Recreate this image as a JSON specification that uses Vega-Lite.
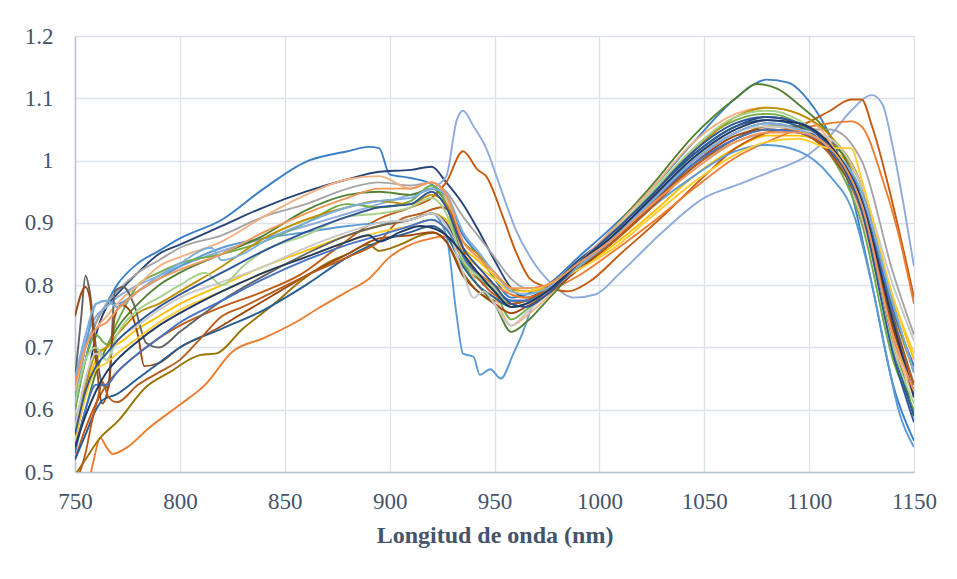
{
"$schema":"https://vega.github.io/schema/vega-lite/v6.json",
"width":839,"height":436,
"autosize":{"type":"none"},
"padding":{"left":75,"top":36,"right":43,"bottom":107},
"background":"white",
"config":{"view":{"stroke":null},"font":"Liberation Serif"},
"data":{"values":[
{"s":1,"x":750,"y":0.60},{"s":1,"x":755,"y":0.68},{"s":1,"x":760,"y":0.74},{"s":1,"x":765,"y":0.77},{"s":1,"x":770,"y":0.80},{"s":1,"x":780,"y":0.835},{"s":1,"x":790,"y":0.855},{"s":1,"x":800,"y":0.875},{"s":1,"x":820,"y":0.905},{"s":1,"x":840,"y":0.955},{"s":1,"x":860,"y":0.998},{"s":1,"x":880,"y":1.015},{"s":1,"x":890,"y":1.022},{"s":1,"x":895,"y":1.02},{"s":1,"x":900,"y":0.978},{"s":1,"x":910,"y":0.972},{"s":1,"x":920,"y":0.962},{"s":1,"x":927,"y":0.94},{"s":1,"x":935,"y":0.88},{"s":1,"x":942,"y":0.85},{"s":1,"x":950,"y":0.81},{"s":1,"x":958,"y":0.78},{"s":1,"x":965,"y":0.785},{"s":1,"x":975,"y":0.80},{"s":1,"x":990,"y":0.845},{"s":1,"x":1005,"y":0.89},{"s":1,"x":1025,"y":0.955},{"s":1,"x":1045,"y":1.03},{"s":1,"x":1065,"y":1.10},{"s":1,"x":1080,"y":1.13},{"s":1,"x":1090,"y":1.125},{"s":1,"x":1100,"y":1.095},{"s":1,"x":1110,"y":1.04},{"s":1,"x":1120,"y":0.95},{"s":1,"x":1130,"y":0.80},{"s":1,"x":1140,"y":0.64},{"s":1,"x":1150,"y":0.55},
{"s":2,"x":750,"y":0.55},{"s":2,"x":755,"y":0.63},{"s":2,"x":760,"y":0.72},{"s":2,"x":765,"y":0.765},{"s":2,"x":770,"y":0.785},{"s":2,"x":780,"y":0.82},{"s":2,"x":790,"y":0.85},{"s":2,"x":800,"y":0.865},{"s":2,"x":820,"y":0.895},{"s":2,"x":840,"y":0.925},{"s":2,"x":860,"y":0.95},{"s":2,"x":880,"y":0.97},{"s":2,"x":895,"y":0.982},{"s":2,"x":910,"y":0.985},{"s":2,"x":920,"y":0.99},{"s":2,"x":927,"y":0.965},{"s":2,"x":935,"y":0.93},{"s":2,"x":942,"y":0.89},{"s":2,"x":950,"y":0.84},{"s":2,"x":958,"y":0.795},{"s":2,"x":965,"y":0.78},{"s":2,"x":975,"y":0.795},{"s":2,"x":990,"y":0.84},{"s":2,"x":1005,"y":0.88},{"s":2,"x":1025,"y":0.945},{"s":2,"x":1045,"y":1.01},{"s":2,"x":1065,"y":1.055},{"s":2,"x":1080,"y":1.07},{"s":2,"x":1095,"y":1.06},{"s":2,"x":1110,"y":1.02},{"s":2,"x":1125,"y":0.93},{"s":2,"x":1140,"y":0.75},{"s":2,"x":1150,"y":0.62},
{"s":3,"x":750,"y":0.62},{"s":3,"x":755,"y":0.70},{"s":3,"x":760,"y":0.74},{"s":3,"x":765,"y":0.77},{"s":3,"x":770,"y":0.79},{"s":3,"x":780,"y":0.82},{"s":3,"x":790,"y":0.84},{"s":3,"x":800,"y":0.86},{"s":3,"x":820,"y":0.88},{"s":3,"x":840,"y":0.91},{"s":3,"x":860,"y":0.93},{"s":3,"x":880,"y":0.955},{"s":3,"x":895,"y":0.965},{"s":3,"x":910,"y":0.96},{"s":3,"x":920,"y":0.965},{"s":3,"x":927,"y":0.95},{"s":3,"x":935,"y":0.91},{"s":3,"x":942,"y":0.88},{"s":3,"x":950,"y":0.845},{"s":3,"x":958,"y":0.81},{"s":3,"x":965,"y":0.795},{"s":3,"x":975,"y":0.80},{"s":3,"x":990,"y":0.83},{"s":3,"x":1005,"y":0.87},{"s":3,"x":1025,"y":0.93},{"s":3,"x":1045,"y":0.99},{"s":3,"x":1065,"y":1.03},{"s":3,"x":1080,"y":1.045},{"s":3,"x":1095,"y":1.05},{"s":3,"x":1110,"y":1.05},{"s":3,"x":1125,"y":1.0},{"s":3,"x":1140,"y":0.82},{"s":3,"x":1150,"y":0.72},
{"s":4,"x":750,"y":0.56},{"s":4,"x":755,"y":0.63},{"s":4,"x":760,"y":0.68},{"s":4,"x":765,"y":0.70},{"s":4,"x":770,"y":0.705},{"s":4,"x":780,"y":0.73},{"s":4,"x":790,"y":0.75},{"s":4,"x":800,"y":0.77},{"s":4,"x":820,"y":0.80},{"s":4,"x":840,"y":0.83},{"s":4,"x":860,"y":0.855},{"s":4,"x":880,"y":0.88},{"s":4,"x":895,"y":0.895},{"s":4,"x":910,"y":0.905},{"s":4,"x":920,"y":0.915},{"s":4,"x":927,"y":0.905},{"s":4,"x":935,"y":0.86},{"s":4,"x":942,"y":0.84},{"s":4,"x":950,"y":0.815},{"s":4,"x":958,"y":0.795},{"s":4,"x":965,"y":0.79},{"s":4,"x":975,"y":0.795},{"s":4,"x":990,"y":0.825},{"s":4,"x":1005,"y":0.86},{"s":4,"x":1025,"y":0.915},{"s":4,"x":1045,"y":0.975},{"s":4,"x":1065,"y":1.02},{"s":4,"x":1080,"y":1.04},{"s":4,"x":1095,"y":1.04},{"s":4,"x":1110,"y":1.02},{"s":4,"x":1125,"y":0.96},{"s":4,"x":1140,"y":0.78},{"s":4,"x":1150,"y":0.68},
{"s":5,"x":750,"y":0.64},{"s":5,"x":755,"y":0.71},{"s":5,"x":760,"y":0.75},{"s":5,"x":765,"y":0.765},{"s":5,"x":770,"y":0.78},{"s":5,"x":780,"y":0.80},{"s":5,"x":790,"y":0.815},{"s":5,"x":800,"y":0.83},{"s":5,"x":820,"y":0.855},{"s":5,"x":840,"y":0.875},{"s":5,"x":860,"y":0.895},{"s":5,"x":880,"y":0.915},{"s":5,"x":895,"y":0.93},{"s":5,"x":910,"y":0.945},{"s":5,"x":920,"y":0.955},{"s":5,"x":927,"y":0.975},{"s":5,"x":932,"y":1.065},{"s":5,"x":935,"y":1.08},{"s":5,"x":940,"y":1.055},{"s":5,"x":946,"y":1.02},{"s":5,"x":953,"y":0.955},{"s":5,"x":960,"y":0.89},{"s":5,"x":968,"y":0.84},{"s":5,"x":978,"y":0.80},{"s":5,"x":988,"y":0.78},{"s":5,"x":998,"y":0.785},{"s":5,"x":1010,"y":0.82},{"s":5,"x":1030,"y":0.885},{"s":5,"x":1050,"y":0.94},{"s":5,"x":1065,"y":0.96},{"s":5,"x":1080,"y":0.98},{"s":5,"x":1100,"y":1.01},{"s":5,"x":1110,"y":1.04},{"s":5,"x":1120,"y":1.08},{"s":5,"x":1130,"y":1.105},{"s":5,"x":1135,"y":1.09},{"s":5,"x":1140,"y":1.02},{"s":5,"x":1145,"y":0.93},{"s":5,"x":1150,"y":0.83},
{"s":6,"x":750,"y":0.52},{"s":6,"x":755,"y":0.57},{"s":6,"x":760,"y":0.61},{"s":6,"x":765,"y":0.64},{"s":6,"x":770,"y":0.66},{"s":6,"x":780,"y":0.69},{"s":6,"x":790,"y":0.715},{"s":6,"x":800,"y":0.735},{"s":6,"x":820,"y":0.765},{"s":6,"x":840,"y":0.79},{"s":6,"x":857,"y":0.816},{"s":6,"x":875,"y":0.86},{"s":6,"x":894,"y":0.905},{"s":6,"x":910,"y":0.925},{"s":6,"x":920,"y":0.94},{"s":6,"x":927,"y":0.965},{"s":6,"x":935,"y":1.015},{"s":6,"x":942,"y":0.985},{"s":6,"x":946,"y":0.975},{"s":6,"x":954,"y":0.91},{"s":6,"x":960,"y":0.855},{"s":6,"x":967,"y":0.81},{"s":6,"x":975,"y":0.797},{"s":6,"x":985,"y":0.79},{"s":6,"x":995,"y":0.805},{"s":6,"x":1010,"y":0.85},{"s":6,"x":1030,"y":0.91},{"s":6,"x":1050,"y":0.975},{"s":6,"x":1065,"y":1.02},{"s":6,"x":1080,"y":1.045},{"s":6,"x":1095,"y":1.055},{"s":6,"x":1110,"y":1.08},{"s":6,"x":1120,"y":1.098},{"s":6,"x":1125,"y":1.098},{"s":6,"x":1130,"y":1.055},{"s":6,"x":1142,"y":0.90},{"s":6,"x":1150,"y":0.78},
{"s":7,"x":757,"y":0.49},{"s":7,"x":759,"y":0.52},{"s":7,"x":762,"y":0.555},{"s":7,"x":765,"y":0.54},{"s":7,"x":768,"y":0.529},{"s":7,"x":775,"y":0.54},{"s":7,"x":785,"y":0.57},{"s":7,"x":800,"y":0.608},{"s":7,"x":812,"y":0.64},{"s":7,"x":825,"y":0.693},{"s":7,"x":840,"y":0.715},{"s":7,"x":855,"y":0.74},{"s":7,"x":867,"y":0.765},{"s":7,"x":880,"y":0.79},{"s":7,"x":890,"y":0.81},{"s":7,"x":900,"y":0.845},{"s":7,"x":910,"y":0.865},{"s":7,"x":920,"y":0.875},{"s":7,"x":925,"y":0.878},{"s":7,"x":930,"y":0.87},{"s":7,"x":935,"y":0.84},{"s":7,"x":942,"y":0.82},{"s":7,"x":950,"y":0.80},{"s":7,"x":958,"y":0.785},{"s":7,"x":965,"y":0.78},{"s":7,"x":975,"y":0.79},{"s":7,"x":990,"y":0.815},{"s":7,"x":1005,"y":0.85},{"s":7,"x":1025,"y":0.90},{"s":7,"x":1045,"y":0.955},{"s":7,"x":1065,"y":1.005},{"s":7,"x":1080,"y":1.03},{"s":7,"x":1095,"y":1.05},{"s":7,"x":1110,"y":1.06},{"s":7,"x":1120,"y":1.063},{"s":7,"x":1125,"y":1.055},{"s":7,"x":1135,"y":0.97},{"s":7,"x":1142,"y":0.89},{"s":7,"x":1150,"y":0.77},
{"s":8,"x":750,"y":0.495},{"s":8,"x":755,"y":0.52},{"s":8,"x":762,"y":0.555},{"s":8,"x":770,"y":0.58},{"s":8,"x":784,"y":0.637},{"s":8,"x":795,"y":0.66},{"s":8,"x":810,"y":0.688},{"s":8,"x":817,"y":0.69},{"s":8,"x":830,"y":0.73},{"s":8,"x":845,"y":0.77},{"s":8,"x":857,"y":0.805},{"s":8,"x":870,"y":0.835},{"s":8,"x":880,"y":0.85},{"s":8,"x":890,"y":0.865},{"s":8,"x":895,"y":0.855},{"s":8,"x":905,"y":0.865},{"s":8,"x":915,"y":0.88},{"s":8,"x":921,"y":0.884},{"s":8,"x":927,"y":0.87},{"s":8,"x":935,"y":0.82},{"s":8,"x":942,"y":0.79},{"s":8,"x":950,"y":0.775},{"s":8,"x":958,"y":0.77},{"s":8,"x":965,"y":0.775},{"s":8,"x":975,"y":0.79},{"s":8,"x":990,"y":0.825},{"s":8,"x":1005,"y":0.865},{"s":8,"x":1025,"y":0.925},{"s":8,"x":1045,"y":0.99},{"s":8,"x":1065,"y":1.035},{"s":8,"x":1080,"y":1.055},{"s":8,"x":1095,"y":1.055},{"s":8,"x":1110,"y":1.03},{"s":8,"x":1125,"y":0.96},{"s":8,"x":1140,"y":0.77},{"s":8,"x":1150,"y":0.66},
{"s":9,"x":750,"y":0.62},{"s":9,"x":755,"y":0.70},{"s":9,"x":760,"y":0.77},{"s":9,"x":765,"y":0.775},{"s":9,"x":770,"y":0.77},{"s":9,"x":780,"y":0.79},{"s":9,"x":790,"y":0.81},{"s":9,"x":800,"y":0.83},{"s":9,"x":820,"y":0.86},{"s":9,"x":840,"y":0.875},{"s":9,"x":860,"y":0.885},{"s":9,"x":880,"y":0.895},{"s":9,"x":895,"y":0.90},{"s":9,"x":910,"y":0.905},{"s":9,"x":920,"y":0.915},{"s":9,"x":927,"y":0.88},{"s":9,"x":932,"y":0.75},{"s":9,"x":935,"y":0.69},{"s":9,"x":940,"y":0.685},{"s":9,"x":943,"y":0.656},{"s":9,"x":948,"y":0.665},{"s":9,"x":953,"y":0.65},{"s":9,"x":959,"y":0.69},{"s":9,"x":963,"y":0.72},{"s":9,"x":968,"y":0.765},{"s":9,"x":975,"y":0.79},{"s":9,"x":990,"y":0.83},{"s":9,"x":1005,"y":0.865},{"s":9,"x":1025,"y":0.925},{"s":9,"x":1045,"y":0.975},{"s":9,"x":1065,"y":1.015},{"s":9,"x":1080,"y":1.025},{"s":9,"x":1095,"y":1.015},{"s":9,"x":1110,"y":0.975},{"s":9,"x":1121,"y":0.916},{"s":9,"x":1130,"y":0.80},{"s":9,"x":1137,"y":0.685},{"s":9,"x":1143,"y":0.595},{"s":9,"x":1150,"y":0.54},
{"s":10,"x":750,"y":0.54},{"s":10,"x":755,"y":0.60},{"s":10,"x":760,"y":0.66},{"s":10,"x":765,"y":0.70},{"s":10,"x":770,"y":0.73},{"s":10,"x":780,"y":0.77},{"s":10,"x":790,"y":0.80},{"s":10,"x":800,"y":0.82},{"s":10,"x":820,"y":0.85},{"s":10,"x":840,"y":0.88},{"s":10,"x":860,"y":0.92},{"s":10,"x":880,"y":0.945},{"s":10,"x":895,"y":0.95},{"s":10,"x":910,"y":0.945},{"s":10,"x":920,"y":0.955},{"s":10,"x":927,"y":0.93},{"s":10,"x":935,"y":0.84},{"s":10,"x":942,"y":0.80},{"s":10,"x":950,"y":0.77},{"s":10,"x":958,"y":0.725},{"s":10,"x":965,"y":0.74},{"s":10,"x":975,"y":0.775},{"s":10,"x":990,"y":0.83},{"s":10,"x":1005,"y":0.885},{"s":10,"x":1025,"y":0.96},{"s":10,"x":1045,"y":1.04},{"s":10,"x":1065,"y":1.10},{"s":10,"x":1075,"y":1.123},{"s":10,"x":1085,"y":1.115},{"s":10,"x":1095,"y":1.09},{"s":10,"x":1110,"y":1.04},{"s":10,"x":1125,"y":0.94},{"s":10,"x":1140,"y":0.72},{"s":10,"x":1150,"y":0.59},
{"s":11,"x":750,"y":0.60},{"s":11,"x":755,"y":0.68},{"s":11,"x":760,"y":0.72},{"s":11,"x":765,"y":0.705},{"s":11,"x":770,"y":0.74},{"s":11,"x":780,"y":0.80},{"s":11,"x":790,"y":0.82},{"s":11,"x":800,"y":0.835},{"s":11,"x":820,"y":0.85},{"s":11,"x":840,"y":0.87},{"s":11,"x":860,"y":0.90},{"s":11,"x":880,"y":0.93},{"s":11,"x":895,"y":0.925},{"s":11,"x":910,"y":0.935},{"s":11,"x":920,"y":0.96},{"s":11,"x":927,"y":0.93},{"s":11,"x":935,"y":0.835},{"s":11,"x":942,"y":0.81},{"s":11,"x":950,"y":0.79},{"s":11,"x":958,"y":0.745},{"s":11,"x":965,"y":0.76},{"s":11,"x":975,"y":0.785},{"s":11,"x":990,"y":0.83},{"s":11,"x":1005,"y":0.88},{"s":11,"x":1025,"y":0.945},{"s":11,"x":1045,"y":1.02},{"s":11,"x":1065,"y":1.065},{"s":11,"x":1080,"y":1.075},{"s":11,"x":1095,"y":1.06},{"s":11,"x":1110,"y":1.01},{"s":11,"x":1125,"y":0.90},{"s":11,"x":1140,"y":0.68},{"s":11,"x":1150,"y":0.60},
{"s":12,"x":750,"y":0.63},{"s":12,"x":755,"y":0.70},{"s":12,"x":760,"y":0.73},{"s":12,"x":765,"y":0.75},{"s":12,"x":770,"y":0.77},{"s":12,"x":780,"y":0.80},{"s":12,"x":790,"y":0.83},{"s":12,"x":800,"y":0.845},{"s":12,"x":820,"y":0.87},{"s":12,"x":840,"y":0.91},{"s":12,"x":860,"y":0.945},{"s":12,"x":880,"y":0.97},{"s":12,"x":895,"y":0.975},{"s":12,"x":910,"y":0.955},{"s":12,"x":920,"y":0.965},{"s":12,"x":927,"y":0.94},{"s":12,"x":935,"y":0.85},{"s":12,"x":942,"y":0.80},{"s":12,"x":950,"y":0.78},{"s":12,"x":958,"y":0.735},{"s":12,"x":965,"y":0.75},{"s":12,"x":975,"y":0.78},{"s":12,"x":990,"y":0.835},{"s":12,"x":1005,"y":0.885},{"s":12,"x":1025,"y":0.955},{"s":12,"x":1045,"y":1.03},{"s":12,"x":1065,"y":1.075},{"s":12,"x":1080,"y":1.085},{"s":12,"x":1095,"y":1.075},{"s":12,"x":1110,"y":1.03},{"s":12,"x":1125,"y":0.91},{"s":12,"x":1140,"y":0.71},{"s":12,"x":1150,"y":0.62},
{"s":13,"x":750,"y":0.58},{"s":13,"x":755,"y":0.64},{"s":13,"x":760,"y":0.69},{"s":13,"x":765,"y":0.70},{"s":13,"x":770,"y":0.72},{"s":13,"x":780,"y":0.755},{"s":13,"x":790,"y":0.77},{"s":13,"x":800,"y":0.79},{"s":13,"x":820,"y":0.83},{"s":13,"x":840,"y":0.875},{"s":13,"x":860,"y":0.905},{"s":13,"x":880,"y":0.925},{"s":13,"x":895,"y":0.935},{"s":13,"x":910,"y":0.93},{"s":13,"x":920,"y":0.945},{"s":13,"x":927,"y":0.93},{"s":13,"x":935,"y":0.87},{"s":13,"x":942,"y":0.85},{"s":13,"x":950,"y":0.82},{"s":13,"x":958,"y":0.795},{"s":13,"x":965,"y":0.79},{"s":13,"x":975,"y":0.80},{"s":13,"x":990,"y":0.835},{"s":13,"x":1005,"y":0.88},{"s":13,"x":1025,"y":0.945},{"s":13,"x":1045,"y":1.015},{"s":13,"x":1065,"y":1.07},{"s":13,"x":1080,"y":1.085},{"s":13,"x":1095,"y":1.075},{"s":13,"x":1110,"y":1.04},{"s":13,"x":1125,"y":0.96},{"s":13,"x":1140,"y":0.76},{"s":13,"x":1150,"y":0.66},
{"s":14,"x":750,"y":0.65},{"s":14,"x":753,"y":0.75},{"s":14,"x":755,"y":0.815},{"s":14,"x":757,"y":0.79},{"s":14,"x":760,"y":0.70},{"s":14,"x":763,"y":0.64},{"s":14,"x":766,"y":0.635},{"s":14,"x":769,"y":0.79},{"s":14,"x":773,"y":0.797},{"s":14,"x":778,"y":0.77},{"s":14,"x":784,"y":0.707},{"s":14,"x":790,"y":0.70},{"s":14,"x":800,"y":0.725},{"s":14,"x":820,"y":0.775},{"s":14,"x":840,"y":0.815},{"s":14,"x":860,"y":0.85},{"s":14,"x":880,"y":0.88},{"s":14,"x":895,"y":0.895},{"s":14,"x":910,"y":0.905},{"s":14,"x":920,"y":0.915},{"s":14,"x":927,"y":0.90},{"s":14,"x":935,"y":0.85},{"s":14,"x":942,"y":0.82},{"s":14,"x":950,"y":0.79},{"s":14,"x":958,"y":0.775},{"s":14,"x":965,"y":0.775},{"s":14,"x":975,"y":0.79},{"s":14,"x":990,"y":0.83},{"s":14,"x":1005,"y":0.87},{"s":14,"x":1025,"y":0.935},{"s":14,"x":1045,"y":1.0},{"s":14,"x":1065,"y":1.045},{"s":14,"x":1080,"y":1.06},{"s":14,"x":1095,"y":1.05},{"s":14,"x":1110,"y":1.015},{"s":14,"x":1125,"y":0.93},{"s":14,"x":1140,"y":0.75},{"s":14,"x":1150,"y":0.64},
{"s":15,"x":750,"y":0.75},{"s":15,"x":755,"y":0.797},{"s":15,"x":757,"y":0.78},{"s":15,"x":760,"y":0.68},{"s":15,"x":763,"y":0.61},{"s":15,"x":766,"y":0.64},{"s":15,"x":769,"y":0.75},{"s":15,"x":772,"y":0.768},{"s":15,"x":776,"y":0.76},{"s":15,"x":780,"y":0.72},{"s":15,"x":783,"y":0.67},{"s":15,"x":790,"y":0.675},{"s":15,"x":800,"y":0.70},{"s":15,"x":815,"y":0.725},{"s":15,"x":830,"y":0.755},{"s":15,"x":845,"y":0.785},{"s":15,"x":860,"y":0.815},{"s":15,"x":880,"y":0.85},{"s":15,"x":895,"y":0.875},{"s":15,"x":910,"y":0.88},{"s":15,"x":920,"y":0.885},{"s":15,"x":927,"y":0.87},{"s":15,"x":935,"y":0.815},{"s":15,"x":942,"y":0.79},{"s":15,"x":950,"y":0.77},{"s":15,"x":958,"y":0.755},{"s":15,"x":965,"y":0.765},{"s":15,"x":975,"y":0.785},{"s":15,"x":990,"y":0.825},{"s":15,"x":1005,"y":0.865},{"s":15,"x":1025,"y":0.93},{"s":15,"x":1045,"y":0.995},{"s":15,"x":1065,"y":1.04},{"s":15,"x":1080,"y":1.05},{"s":15,"x":1095,"y":1.045},{"s":15,"x":1110,"y":1.01},{"s":15,"x":1125,"y":0.92},{"s":15,"x":1140,"y":0.73},{"s":15,"x":1150,"y":0.63},
{"s":16,"x":750,"y":0.52},{"s":16,"x":755,"y":0.56},{"s":16,"x":760,"y":0.60},{"s":16,"x":763,"y":0.615},{"s":16,"x":770,"y":0.625},{"s":16,"x":780,"y":0.65},{"s":16,"x":790,"y":0.675},{"s":16,"x":800,"y":0.70},{"s":16,"x":820,"y":0.73},{"s":16,"x":840,"y":0.76},{"s":16,"x":860,"y":0.80},{"s":16,"x":880,"y":0.845},{"s":16,"x":895,"y":0.87},{"s":16,"x":910,"y":0.885},{"s":16,"x":920,"y":0.895},{"s":16,"x":927,"y":0.88},{"s":16,"x":935,"y":0.83},{"s":16,"x":942,"y":0.80},{"s":16,"x":950,"y":0.78},{"s":16,"x":958,"y":0.765},{"s":16,"x":965,"y":0.77},{"s":16,"x":975,"y":0.79},{"s":16,"x":990,"y":0.835},{"s":16,"x":1005,"y":0.88},{"s":16,"x":1025,"y":0.945},{"s":16,"x":1045,"y":1.01},{"s":16,"x":1065,"y":1.055},{"s":16,"x":1080,"y":1.065},{"s":16,"x":1095,"y":1.055},{"s":16,"x":1110,"y":1.015},{"s":16,"x":1125,"y":0.92},{"s":16,"x":1140,"y":0.70},{"s":16,"x":1150,"y":0.59},
{"s":17,"x":750,"y":0.48},{"s":17,"x":755,"y":0.53},{"s":17,"x":758,"y":0.58},{"s":17,"x":761,"y":0.62},{"s":17,"x":763,"y":0.645},{"s":17,"x":766,"y":0.62},{"s":17,"x":770,"y":0.612},{"s":17,"x":780,"y":0.64},{"s":17,"x":790,"y":0.66},{"s":17,"x":800,"y":0.68},{"s":17,"x":810,"y":0.715},{"s":17,"x":820,"y":0.75},{"s":17,"x":830,"y":0.765},{"s":17,"x":845,"y":0.79},{"s":17,"x":860,"y":0.815},{"s":17,"x":880,"y":0.845},{"s":17,"x":895,"y":0.87},{"s":17,"x":905,"y":0.905},{"s":17,"x":915,"y":0.915},{"s":17,"x":925,"y":0.925},{"s":17,"x":930,"y":0.91},{"s":17,"x":937,"y":0.84},{"s":17,"x":945,"y":0.80},{"s":17,"x":952,"y":0.78},{"s":17,"x":958,"y":0.77},{"s":17,"x":965,"y":0.775},{"s":17,"x":975,"y":0.795},{"s":17,"x":990,"y":0.83},{"s":17,"x":1005,"y":0.865},{"s":17,"x":1025,"y":0.925},{"s":17,"x":1045,"y":0.99},{"s":17,"x":1065,"y":1.035},{"s":17,"x":1080,"y":1.05},{"s":17,"x":1095,"y":1.045},{"s":17,"x":1110,"y":1.01},{"s":17,"x":1125,"y":0.93},{"s":17,"x":1140,"y":0.74},{"s":17,"x":1150,"y":0.64},
{"s":18,"x":750,"y":0.57},{"s":18,"x":755,"y":0.65},{"s":18,"x":760,"y":0.69},{"s":18,"x":765,"y":0.68},{"s":18,"x":770,"y":0.71},{"s":18,"x":780,"y":0.735},{"s":18,"x":790,"y":0.76},{"s":18,"x":800,"y":0.78},{"s":18,"x":820,"y":0.805},{"s":18,"x":840,"y":0.83},{"s":18,"x":860,"y":0.86},{"s":18,"x":880,"y":0.885},{"s":18,"x":895,"y":0.90},{"s":18,"x":910,"y":0.905},{"s":18,"x":920,"y":0.915},{"s":18,"x":927,"y":0.895},{"s":18,"x":935,"y":0.82},{"s":18,"x":940,"y":0.78},{"s":18,"x":945,"y":0.79},{"s":18,"x":950,"y":0.77},{"s":18,"x":958,"y":0.735},{"s":18,"x":965,"y":0.755},{"s":18,"x":975,"y":0.785},{"s":18,"x":990,"y":0.83},{"s":18,"x":1005,"y":0.875},{"s":18,"x":1025,"y":0.94},{"s":18,"x":1045,"y":1.005},{"s":18,"x":1065,"y":1.045},{"s":18,"x":1080,"y":1.055},{"s":18,"x":1095,"y":1.05},{"s":18,"x":1110,"y":1.035},{"s":18,"x":1125,"y":0.96},{"s":18,"x":1140,"y":0.80},{"s":18,"x":1150,"y":0.71},
{"s":19,"x":750,"y":0.55},{"s":19,"x":755,"y":0.62},{"s":19,"x":760,"y":0.665},{"s":19,"x":765,"y":0.675},{"s":19,"x":770,"y":0.69},{"s":19,"x":780,"y":0.715},{"s":19,"x":790,"y":0.74},{"s":19,"x":800,"y":0.76},{"s":19,"x":820,"y":0.79},{"s":19,"x":840,"y":0.82},{"s":19,"x":860,"y":0.845},{"s":19,"x":880,"y":0.87},{"s":19,"x":895,"y":0.885},{"s":19,"x":910,"y":0.895},{"s":19,"x":920,"y":0.905},{"s":19,"x":927,"y":0.89},{"s":19,"x":935,"y":0.85},{"s":19,"x":942,"y":0.83},{"s":19,"x":950,"y":0.81},{"s":19,"x":958,"y":0.79},{"s":19,"x":965,"y":0.79},{"s":19,"x":975,"y":0.80},{"s":19,"x":990,"y":0.825},{"s":19,"x":1005,"y":0.855},{"s":19,"x":1025,"y":0.91},{"s":19,"x":1045,"y":0.965},{"s":19,"x":1065,"y":1.01},{"s":19,"x":1080,"y":1.03},{"s":19,"x":1095,"y":1.035},{"s":19,"x":1110,"y":1.02},{"s":19,"x":1120,"y":1.02},{"s":19,"x":1125,"y":0.97},{"s":19,"x":1140,"y":0.78},{"s":19,"x":1150,"y":0.69},
{"s":20,"x":750,"y":0.53},{"s":20,"x":755,"y":0.60},{"s":20,"x":760,"y":0.64},{"s":20,"x":765,"y":0.64},{"s":20,"x":770,"y":0.66},{"s":20,"x":780,"y":0.69},{"s":20,"x":790,"y":0.715},{"s":20,"x":800,"y":0.74},{"s":20,"x":820,"y":0.775},{"s":20,"x":840,"y":0.81},{"s":20,"x":860,"y":0.84},{"s":20,"x":880,"y":0.865},{"s":20,"x":895,"y":0.88},{"s":20,"x":910,"y":0.895},{"s":20,"x":920,"y":0.905},{"s":20,"x":927,"y":0.89},{"s":20,"x":935,"y":0.845},{"s":20,"x":942,"y":0.815},{"s":20,"x":950,"y":0.795},{"s":20,"x":958,"y":0.775},{"s":20,"x":965,"y":0.775},{"s":20,"x":975,"y":0.79},{"s":20,"x":990,"y":0.83},{"s":20,"x":1005,"y":0.87},{"s":20,"x":1025,"y":0.935},{"s":20,"x":1045,"y":0.995},{"s":20,"x":1065,"y":1.035},{"s":20,"x":1080,"y":1.05},{"s":20,"x":1095,"y":1.045},{"s":20,"x":1110,"y":1.02},{"s":20,"x":1125,"y":0.94},{"s":20,"x":1140,"y":0.76},{"s":20,"x":1150,"y":0.67},
{"s":21,"x":750,"y":0.65},{"s":21,"x":755,"y":0.72},{"s":21,"x":760,"y":0.77},{"s":21,"x":765,"y":0.775},{"s":21,"x":770,"y":0.765},{"s":21,"x":780,"y":0.79},{"s":21,"x":790,"y":0.815},{"s":21,"x":800,"y":0.835},{"s":21,"x":815,"y":0.86},{"s":21,"x":820,"y":0.84},{"s":21,"x":830,"y":0.85},{"s":21,"x":840,"y":0.87},{"s":21,"x":860,"y":0.90},{"s":21,"x":880,"y":0.925},{"s":21,"x":895,"y":0.935},{"s":21,"x":910,"y":0.94},{"s":21,"x":920,"y":0.955},{"s":21,"x":927,"y":0.945},{"s":21,"x":935,"y":0.885},{"s":21,"x":942,"y":0.855},{"s":21,"x":950,"y":0.82},{"s":21,"x":958,"y":0.79},{"s":21,"x":965,"y":0.785},{"s":21,"x":975,"y":0.795},{"s":21,"x":990,"y":0.83},{"s":21,"x":1005,"y":0.87},{"s":21,"x":1025,"y":0.935},{"s":21,"x":1045,"y":1.0},{"s":21,"x":1065,"y":1.045},{"s":21,"x":1080,"y":1.06},{"s":21,"x":1095,"y":1.05},{"s":21,"x":1110,"y":1.02},{"s":21,"x":1125,"y":0.95},{"s":21,"x":1140,"y":0.77},{"s":21,"x":1150,"y":0.66},
{"s":22,"x":750,"y":0.61},{"s":22,"x":755,"y":0.68},{"s":22,"x":760,"y":0.70},{"s":22,"x":765,"y":0.68},{"s":22,"x":770,"y":0.72},{"s":22,"x":780,"y":0.76},{"s":22,"x":790,"y":0.78},{"s":22,"x":800,"y":0.80},{"s":22,"x":812,"y":0.82},{"s":22,"x":820,"y":0.80},{"s":22,"x":830,"y":0.83},{"s":22,"x":840,"y":0.855},{"s":22,"x":860,"y":0.88},{"s":22,"x":880,"y":0.91},{"s":22,"x":895,"y":0.915},{"s":22,"x":910,"y":0.925},{"s":22,"x":920,"y":0.94},{"s":22,"x":927,"y":0.915},{"s":22,"x":935,"y":0.84},{"s":22,"x":942,"y":0.815},{"s":22,"x":950,"y":0.795},{"s":22,"x":958,"y":0.765},{"s":22,"x":965,"y":0.77},{"s":22,"x":975,"y":0.79},{"s":22,"x":990,"y":0.835},{"s":22,"x":1005,"y":0.88},{"s":22,"x":1025,"y":0.95},{"s":22,"x":1045,"y":1.02},{"s":22,"x":1065,"y":1.07},{"s":22,"x":1080,"y":1.08},{"s":22,"x":1095,"y":1.065},{"s":22,"x":1110,"y":1.02},{"s":22,"x":1125,"y":0.92},{"s":22,"x":1140,"y":0.70},{"s":22,"x":1150,"y":0.61},
{"s":23,"x":750,"y":0.56},{"s":23,"x":755,"y":0.63},{"s":23,"x":760,"y":0.67},{"s":23,"x":765,"y":0.69},{"s":23,"x":770,"y":0.71},{"s":23,"x":780,"y":0.74},{"s":23,"x":790,"y":0.765},{"s":23,"x":800,"y":0.785},{"s":23,"x":820,"y":0.82},{"s":23,"x":840,"y":0.855},{"s":23,"x":860,"y":0.885},{"s":23,"x":880,"y":0.91},{"s":23,"x":895,"y":0.925},{"s":23,"x":910,"y":0.93},{"s":23,"x":920,"y":0.95},{"s":23,"x":927,"y":0.925},{"s":23,"x":935,"y":0.86},{"s":23,"x":942,"y":0.83},{"s":23,"x":950,"y":0.80},{"s":23,"x":958,"y":0.77},{"s":23,"x":965,"y":0.765},{"s":23,"x":975,"y":0.785},{"s":23,"x":990,"y":0.835},{"s":23,"x":1005,"y":0.88},{"s":23,"x":1025,"y":0.945},{"s":23,"x":1045,"y":1.015},{"s":23,"x":1065,"y":1.06},{"s":23,"x":1080,"y":1.07},{"s":23,"x":1095,"y":1.06},{"s":23,"x":1110,"y":1.02},{"s":23,"x":1125,"y":0.92},{"s":23,"x":1140,"y":0.69},{"s":23,"x":1150,"y":0.58},
{"s":24,"x":750,"y":0.54},{"s":24,"x":755,"y":0.59},{"s":24,"x":760,"y":0.63},{"s":24,"x":765,"y":0.66},{"s":24,"x":770,"y":0.68},{"s":24,"x":780,"y":0.71},{"s":24,"x":790,"y":0.735},{"s":24,"x":800,"y":0.755},{"s":24,"x":820,"y":0.79},{"s":24,"x":840,"y":0.82},{"s":24,"x":860,"y":0.845},{"s":24,"x":880,"y":0.87},{"s":24,"x":890,"y":0.88},{"s":24,"x":895,"y":0.87},{"s":24,"x":905,"y":0.885},{"s":24,"x":915,"y":0.895},{"s":24,"x":922,"y":0.89},{"s":24,"x":927,"y":0.88},{"s":24,"x":935,"y":0.85},{"s":24,"x":942,"y":0.82},{"s":24,"x":950,"y":0.79},{"s":24,"x":958,"y":0.765},{"s":24,"x":965,"y":0.77},{"s":24,"x":975,"y":0.79},{"s":24,"x":990,"y":0.835},{"s":24,"x":1005,"y":0.875},{"s":24,"x":1025,"y":0.94},{"s":24,"x":1045,"y":1.005},{"s":24,"x":1065,"y":1.05},{"s":24,"x":1080,"y":1.065},{"s":24,"x":1095,"y":1.06},{"s":24,"x":1110,"y":1.025},{"s":24,"x":1125,"y":0.935},{"s":24,"x":1140,"y":0.74},{"s":24,"x":1150,"y":0.62},
{"s":25,"x":750,"y":0.64},{"s":25,"x":755,"y":0.70},{"s":25,"x":760,"y":0.73},{"s":25,"x":765,"y":0.74},{"s":25,"x":770,"y":0.76},{"s":25,"x":780,"y":0.79},{"s":25,"x":790,"y":0.81},{"s":25,"x":800,"y":0.825},{"s":25,"x":820,"y":0.85},{"s":25,"x":840,"y":0.885},{"s":25,"x":860,"y":0.915},{"s":25,"x":880,"y":0.94},{"s":25,"x":895,"y":0.955},{"s":25,"x":910,"y":0.955},{"s":25,"x":920,"y":0.965},{"s":25,"x":927,"y":0.945},{"s":25,"x":935,"y":0.87},{"s":25,"x":942,"y":0.845},{"s":25,"x":950,"y":0.82},{"s":25,"x":958,"y":0.795},{"s":25,"x":965,"y":0.795},{"s":25,"x":975,"y":0.80},{"s":25,"x":990,"y":0.835},{"s":25,"x":1005,"y":0.87},{"s":25,"x":1025,"y":0.93},{"s":25,"x":1045,"y":0.985},{"s":25,"x":1065,"y":1.03},{"s":25,"x":1080,"y":1.045},{"s":25,"x":1095,"y":1.045},{"s":25,"x":1110,"y":1.02},{"s":25,"x":1125,"y":0.93},{"s":25,"x":1140,"y":0.72},{"s":25,"x":1150,"y":0.63}
]},
"mark":{"type":"line","strokeWidth":1.9,"interpolate":"monotone","clip":true},
"encoding":{
"x":{"field":"x","type":"quantitative","scale":{"domain":[750,1150],"nice":false,"zero":false},
"axis":{"values":[750,800,850,900,950,1000,1050,1100,1150],"format":"d","labelFlush":false,"labelOverlap":false,"title":"Longitud de onda (nm)","grid":true,"gridColor":"#DDE2EA","gridWidth":1.3,"domainColor":"#B8C2D2","domainWidth":1.5,"ticks":false,"labelFont":"Liberation Serif","labelFontSize":23,"labelColor":"#44546A","labelPadding":18,"titleFont":"Liberation Serif","titleFontSize":24,"titleFontWeight":"bold","titleColor":"#44546A","titlePadding":10}},
"y":{"field":"y","type":"quantitative","scale":{"domain":[0.5,1.2],"nice":false,"zero":false},
"axis":{"values":[0.5,0.6,0.7,0.8,0.9,1.0,1.1,1.2],"format":".2~f","labelFlush":false,"labelOverlap":false,"title":null,"grid":true,"gridColor":"#DDE2EA","gridWidth":1.3,"domainColor":"#B8C2D2","domainWidth":1.5,"ticks":false,"labelFont":"Liberation Serif","labelFontSize":23,"labelColor":"#44546A","labelPadding":22}},
"color":{"field":"s","type":"nominal","legend":null,
"scale":{"domain":[1,2,3,4,5,6,7,8,9,10,11,12,13,14,15,16,17,18,19,20,21,22,23,24,25],
"range":["#3A7FC8","#264478","#A5A5A5","#FFC000","#8FAADC","#C55A11","#ED7D31","#997300","#5B9BD5","#548235","#70AD47","#F4B183","#BF9000","#636363","#9E480E","#255E91","#B85C1E","#C9C9C9","#FFCD33","#4472C4","#7CAFDD","#A9D18E","#2F5597","#1F3864","#F1975A"]}}
}
}
